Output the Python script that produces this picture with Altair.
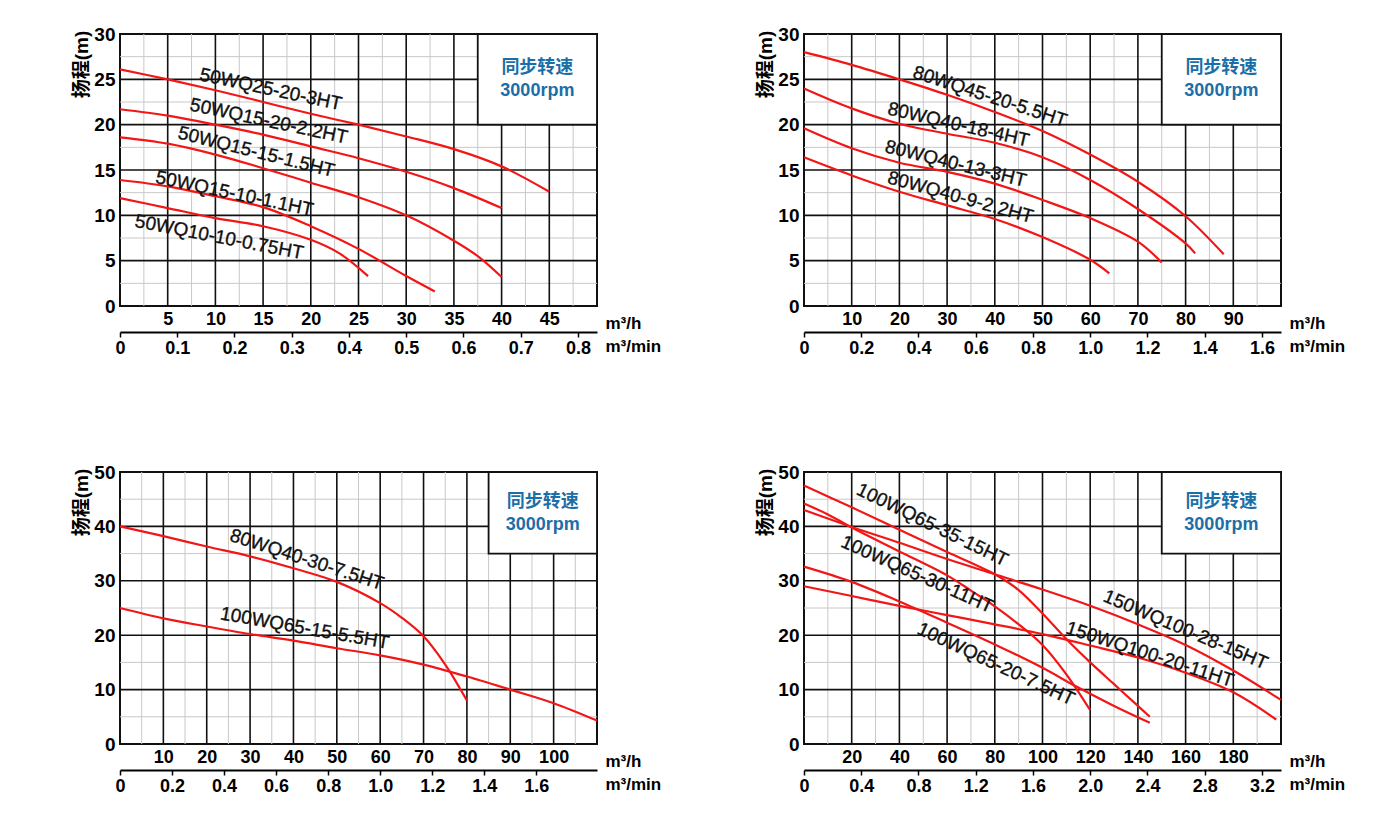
import altair as alt
import pandas as pd

FONT = "Liberation Sans, Arial, Noto Sans CJK SC, sans-serif"
RED = "#f21616"
BLUE = "#1b6ea8"
W, H = 477, 272

# ---------------- Panel 1 (top-left) ----------------
p1_names = ["50WQ25-20-3HT", "50WQ15-20-2.2HT", "50WQ15-15-1.5HT", "50WQ15-10-1.1HT", "50WQ10-10-0.75HT"]
p1_q = [
    [0, 5, 10, 15, 20, 25, 30, 35, 40, 45],
    [0, 5, 10, 15, 20, 25, 30, 35, 40],
    [0, 5, 10, 15, 20, 25, 30, 35, 37.5, 40],
    [0, 5, 10, 15, 20, 25, 30, 33],
    [0, 5, 10, 15, 20, 23, 26],
]
p1_h = [
    [26.1, 25.0, 23.8, 22.5, 21.2, 20.0, 18.7, 17.3, 15.4, 12.6],
    [21.7, 21.0, 20.0, 18.9, 17.6, 16.3, 14.8, 13.0, 10.8],
    [18.6, 17.9, 16.7, 15.2, 13.6, 12.0, 10.0, 7.2, 5.5, 3.2],
    [13.9, 13.2, 12.1, 10.9, 8.8, 6.3, 3.3, 1.6],
    [11.9, 10.8, 9.7, 8.8, 7.3, 5.8, 3.3],
]
p1_lab_x = [15.8, 15.6, 14.3, 12.0, 10.4]
p1_lab_y = [23.9, 20.4, 17.0, 12.4, 7.6]
p1_lab_a = [12, 12, 14, 12, 11]
p1_xticks = [5, 10, 15, 20, 25, 30, 35, 40, 45]
p1_yticks = [0, 5, 10, 15, 20, 25, 30]
p1_min_ticks = [0, 6, 12, 18, 24, 30, 36, 42, 48]
p1_box = [37.5, 50, 20, 30]

# ---------------- Panel 2 (top-right) ----------------
p2_names = ["80WQ45-20-5.5HT", "80WQ40-18-4HT", "80WQ40-13-3HT", "80WQ40-9-2.2HT"]
p2_q = [
    [0, 10, 20, 30, 40, 50, 60, 70, 80, 88],
    [0, 10, 20, 30, 40, 50, 60, 70, 80, 82],
    [0, 10, 20, 30, 40, 50, 60, 70, 75],
    [0, 10, 20, 30, 40, 50, 60, 64],
]
p2_h = [
    [28.0, 26.6, 25.0, 23.3, 21.4, 19.3, 16.7, 13.7, 9.9, 5.7],
    [24.0, 21.8, 20.1, 19.0, 18.0, 16.4, 13.9, 10.7, 6.9, 5.8],
    [19.6, 17.4, 15.8, 14.8, 13.5, 11.7, 9.7, 7.1, 4.8],
    [16.4, 14.4, 12.6, 11.1, 9.6, 7.6, 5.1, 3.6],
]
p2_lab_x = [39.0, 32.4, 31.8, 32.8]
p2_lab_y = [23.1, 20.0, 15.7, 12.0]
p2_lab_a = [18, 13, 14, 15.5]
p2_xticks = [10, 20, 30, 40, 50, 60, 70, 80, 90]
p2_yticks = [0, 5, 10, 15, 20, 25, 30]
p2_min_ticks = [0, 12, 24, 36, 48, 60, 72, 84, 96]
p2_box = [75, 100, 20, 30]

# ---------------- Panel 3 (bottom-left) ----------------
p3_names = ["80WQ40-30-7.5HT", "100WQ65-15-5.5HT"]
p3_q = [
    [0, 10, 20, 30, 40, 50, 60, 65, 70, 75, 80],
    [0, 10, 20, 30, 40, 50, 60, 70, 80, 90, 100, 110],
]
p3_h = [
    [40.0, 38.2, 36.3, 34.5, 32.3, 29.8, 25.9, 23.2, 19.8, 14.6, 8.0],
    [25.0, 23.1, 21.6, 20.2, 19.0, 17.6, 16.3, 14.6, 12.4, 10.0, 7.5, 4.3],
]
p3_lab_x = [43.1, 42.6]
p3_lab_y = [33.9, 21.3]
p3_lab_a = [18, 10]
p3_xticks = [10, 20, 30, 40, 50, 60, 70, 80, 90, 100]
p3_yticks = [0, 10, 20, 30, 40, 50]
p3_min_ticks = [0, 12, 24, 36, 48, 60, 72, 84, 96]
p3_box = [85, 110, 35, 50]

# ---------------- Panel 4 (bottom-right) ----------------
p4_names = ["100WQ65-35-15HT", "100WQ65-30-11HT", "100WQ65-20-7.5HT", "150WQ100-28-15HT", "150WQ100-20-11HT"]
p4_q = [
    [0, 20, 40, 60, 80, 90, 100, 110, 120, 130, 140, 145],
    [0, 10, 20, 40, 60, 70, 80, 90, 100, 110, 120],
    [0, 20, 40, 60, 80, 100, 114, 130, 145],
    [0, 20, 40, 60, 80, 100, 120, 140, 160, 180, 200],
    [0, 20, 40, 60, 80, 100, 120, 140, 160, 180, 198],
]
p4_h = [
    [47.5, 43.5, 39.4, 35.3, 31.2, 28.3, 24.0, 19.3, 15.0, 11.0, 7.0, 5.0],
    [44.2, 42.2, 39.8, 35.4, 31.0, 28.2, 25.3, 22.0, 18.2, 12.8, 6.2],
    [32.6, 29.8, 26.2, 22.3, 18.3, 14.0, 10.6, 7.0, 3.9],
    [43.0, 39.9, 37.0, 34.0, 31.2, 28.4, 25.4, 22.0, 18.2, 13.5, 8.1],
    [29.0, 27.2, 25.4, 23.7, 22.0, 20.2, 18.1, 15.9, 13.1, 9.5, 4.5],
]
p4_lab_x = [53.8, 47.5, 80.5, 160.0, 145.0]
p4_lab_y = [40.3, 31.2, 14.7, 21.0, 16.5]
p4_lab_a = [26, 24, 25, 23, 18]
p4_xticks = [20, 40, 60, 80, 100, 120, 140, 160, 180]
p4_yticks = [0, 10, 20, 30, 40, 50]
p4_min_ticks = [0, 24, 48, 72, 96, 120, 144, 168, 192]
p4_box = [150, 200, 35, 50]

box_text = ["同步转速", "3000rpm"]


def make_panel(names, qs, hs, lab_x, lab_y, lab_a, xmax, ymax, xstep, ystep,
               xticks, yticks, min_ticks, box):
    xsc = alt.Scale(domain=[0, xmax], nice=False, zero=False)
    ysc = alt.Scale(domain=[0, ymax], nice=False, zero=False)

    curve_df = pd.DataFrame(
        [{"name": n, "q": q, "h": h} for n, qq, hh in zip(names, qs, hs) for q, h in zip(qq, hh)]
    )
    nx = int(round(xmax / xstep))
    ny = int(round(ymax / ystep))
    minor_x = pd.DataFrame({"v": [xstep / 2 + i * xstep for i in range(nx)]})
    minor_y = pd.DataFrame({"v": [ystep / 2 + i * ystep for i in range(ny)]})
    major_x = pd.DataFrame({"v": [i * xstep for i in range(1, nx)]})
    major_y = pd.DataFrame({"v": [i * ystep for i in range(1, ny)]})

    sec_axis = alt.Axis(
        orient="bottom", offset=26, values=min_ticks,
        labelExpr="datum.value == 0 ? '0' : format(datum.value / 60, '.1f')",
        title="m³/min", titleX=W + 8, titleY=14, titleAlign="left", titleBaseline="middle",
        titleFontSize=17, titleFontWeight="bold", titleFont=FONT,
        domain=True, domainColor="black", domainWidth=2,
        ticks=True, tickSize=5, tickColor="black", tickWidth=1.5,
        labelPadding=2, labelFontSize=18, labelFontWeight="bold", labelFont=FONT,
        labelColor="black", grid=False, labelFlush=False, labelOverlap=False,
    )
    prim_x = alt.Axis(
        orient="bottom", values=xticks, title="m³/h",
        titleX=W + 8, titleY=17, titleAlign="left", titleBaseline="middle",
        titleFontSize=17, titleFontWeight="bold", titleFont=FONT,
        domain=False, ticks=False, grid=False, labelPadding=4,
        labelFontSize=18, labelFontWeight="bold", labelFont=FONT, labelColor="black",
        labelFlush=False, labelOverlap=False,
    )
    yaxis = alt.Axis(
        values=yticks, title="扬程(m)", titleAngle=270, titleX=-39, titleY=30,
        titleAlign="center", titleBaseline="middle", titleFontSize=19,
        titleFontWeight="bold", titleFont=FONT, titleColor="black",
        domain=False, ticks=False, grid=False, labelPadding=5,
        labelFontSize=19, labelFontWeight="bold", labelFont=FONT, labelColor="black",
        labelFlush=False, labelOverlap=False,
    )

    l_minor_v = alt.Chart(minor_x).mark_rule(color="#c8c8c8", strokeWidth=1).encode(
        x=alt.X("v:Q", scale=xsc, axis=sec_axis))
    l_minor_h = alt.Chart(minor_y).mark_rule(color="#c8c8c8", strokeWidth=1).encode(
        y=alt.Y("v:Q", scale=ysc, axis=None))
    l_major_v = alt.Chart(major_x).mark_rule(color="#111111", strokeWidth=1.6).encode(
        x=alt.X("v:Q", scale=xsc, axis=None))
    l_major_h = alt.Chart(major_y).mark_rule(color="#111111", strokeWidth=1.6).encode(
        y=alt.Y("v:Q", scale=ysc, axis=None))

    box_df = pd.DataFrame([{"x1": box[0], "x2": box[1], "y1": box[2], "y2": box[3]}])
    l_box = alt.Chart(box_df).mark_rect(fill="white", stroke="#111111", strokeWidth=1.8).encode(
        x=alt.X("x1:Q", scale=xsc, axis=None), x2="x2:Q",
        y=alt.Y("y1:Q", scale=ysc, axis=None), y2="y2:Q")

    l_curves = alt.Chart(curve_df).mark_line(
        color=RED, strokeWidth=2.2, interpolate="catmull-rom").encode(
        x=alt.X("q:Q", scale=xsc, axis=prim_x),
        y=alt.Y("h:Q", scale=ysc, axis=yaxis),
        detail="name:N",
    )

    lab_df = pd.DataFrame({"t": names, "x": lab_x, "y": lab_y, "a": lab_a})
    l_labels = alt.Chart(lab_df).mark_text(
        font=FONT, fontSize=19, color="#111111", stroke="#111111", strokeWidth=0.35).encode(
        x=alt.X("x:Q", scale=xsc, axis=None),
        y=alt.Y("y:Q", scale=ysc, axis=None),
        text="t:N",
        angle=alt.Angle("a:Q", scale=None),
    )

    bt_df = pd.DataFrame({"t": box_text, "x": [(box[0] + box[1]) / 2] * 2,
                          "y": [(box[2] + box[3]) / 2] * 2})
    l_bt1 = alt.Chart(bt_df.iloc[[0]]).mark_text(
        font=FONT, fontSize=18, fontWeight="bold", color=BLUE, dy=-11).encode(
        x=alt.X("x:Q", scale=xsc, axis=None), y=alt.Y("y:Q", scale=ysc, axis=None), text="t:N")
    l_bt2 = alt.Chart(bt_df.iloc[[1]]).mark_text(
        font=FONT, fontSize=18, fontWeight="bold", color=BLUE, dy=12).encode(
        x=alt.X("x:Q", scale=xsc, axis=None), y=alt.Y("y:Q", scale=ysc, axis=None), text="t:N")

    return alt.layer(
        l_minor_v, l_minor_h, l_major_v, l_major_h, l_box, l_curves, l_labels, l_bt1, l_bt2
    ).resolve_axis(x="independent", y="independent").properties(width=W, height=H)


p1 = make_panel(p1_names, p1_q, p1_h, p1_lab_x, p1_lab_y, p1_lab_a, 50, 30, 5, 5,
                p1_xticks, p1_yticks, p1_min_ticks, p1_box)
p2 = make_panel(p2_names, p2_q, p2_h, p2_lab_x, p2_lab_y, p2_lab_a, 100, 30, 10, 5,
                p2_xticks, p2_yticks, p2_min_ticks, p2_box)
p3 = make_panel(p3_names, p3_q, p3_h, p3_lab_x, p3_lab_y, p3_lab_a, 110, 50, 10, 10,
                p3_xticks, p3_yticks, p3_min_ticks, p3_box)
p4 = make_panel(p4_names, p4_q, p4_h, p4_lab_x, p4_lab_y, p4_lab_a, 200, 50, 20, 10,
                p4_xticks, p4_yticks, p4_min_ticks, p4_box)

chart = alt.concat(
    p1, p2, p3, p4, columns=2, bounds="flush",
    spacing=alt.RowColnumber(row=166, column=207),
).properties(
    padding={"left": 71, "top": 24, "right": 0, "bottom": 0},
    background="white",
).configure_view(stroke="#111111", strokeWidth=2)

chart.save("out.html", embed_options={"renderer": "svg", "actions": False})
